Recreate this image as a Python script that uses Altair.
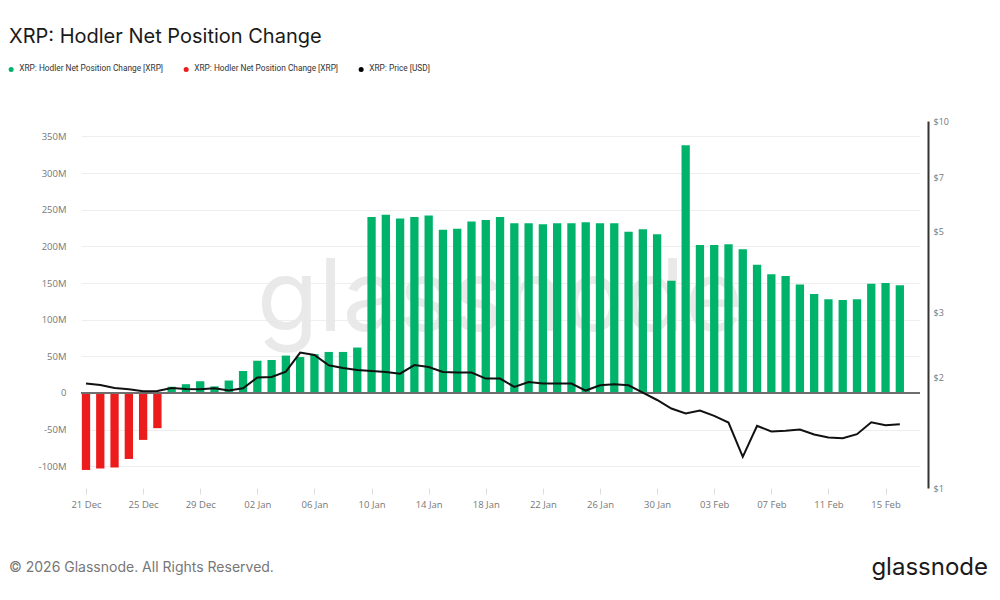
import altair as alt
import pandas as pd

# ---- data ----
dates = pd.date_range("2025-12-21", "2026-02-16", freq="D").strftime("%Y-%m-%dT00:00:00").tolist()

net_change_m = [
    -105, -103, -101.5, -90, -64, -48,
    8.5, 12, 16, 9, 17,
    30, 44, 45, 51, 49, 53, 56, 56, 62,
    240, 243, 238, 240, 242, 222.5, 224, 234, 236, 240, 231.5, 231.5, 230,
    231.5, 231.5, 233, 231.5, 231.5, 220, 223.5, 216.5, 153,
    338, 202, 202, 203, 196, 175, 162, 159.5, 148, 135, 128, 127, 128, 149, 150, 147,
]

price_usd = [
    1.925, 1.909, 1.873, 1.858, 1.835, 1.838, 1.873, 1.862, 1.858, 1.869, 1.843,
    1.869, 2.000, 2.006, 2.076, 2.338, 2.303, 2.159, 2.123, 2.097, 2.084, 2.070,
    2.049, 2.163, 2.136, 2.070, 2.063, 2.063, 1.987, 1.987, 1.885, 1.945, 1.925,
    1.925, 1.925, 1.843, 1.905, 1.917, 1.905, 1.820, 1.737, 1.646,
    1.596, 1.626, 1.573, 1.508, 1.216, 1.477, 1.426, 1.432, 1.443, 1.399, 1.373,
    1.367, 1.402, 1.511, 1.483, 1.492,
]

x_tick_dates = [
    (2025, 12, 21), (2025, 12, 25), (2025, 12, 29), (2026, 1, 2), (2026, 1, 6),
    (2026, 1, 10), (2026, 1, 14), (2026, 1, 18), (2026, 1, 22), (2026, 1, 26),
    (2026, 1, 30), (2026, 2, 3), (2026, 2, 7), (2026, 2, 11), (2026, 2, 15),
]
left_ticks_m = [-100, -50, 0, 50, 100, 150, 200, 250, 300, 350]
right_ticks = [1, 2, 3, 5, 7, 10]

series_keys = ["pos", "neg", "price"]
series_labels = ["XRP: Hodler Net Position Change [XRP]",
                 "XRP: Hodler Net Position Change [XRP]",
                 "XRP: Price [USD]"]
series_colors = ["#00B36A", "#EC1C1C", "#000000"]

title_text = "XRP: Hodler Net Position Change"
footer_text = "\u00a9 2026 Glassnode. All Rights Reserved."
brand_text = "glassnode"

# ---- tables ----
df = pd.DataFrame({
    "date": dates,
    "net": net_change_m,
    "price": price_usd,
})
df["series"] = ["pos" if v >= 0 else "neg" for v in net_change_m]

W, H = 839, 367
FONT = "Open Sans"

x_enc = alt.X(
    "date:T",
    scale=alt.Scale(
        domain=[alt.DateTime(year=2025, month=12, date=21),
                alt.DateTime(year=2026, month=2, date=17, hours=1, minutes=30)],
        nice=False,
    ),
    axis=alt.Axis(
        values=[alt.DateTime(year=y, month=m, date=d) for (y, m, d) in x_tick_dates],
        format="%d %b", title=None, grid=False, domain=False,
        ticks=True, tickSize=6, tickColor="#dddddd", tickWidth=1,
        labelColor="#777777", labelFont=FONT, labelFontSize=9.5, labelPadding=5,
    ),
)

label_expr = ("datum.value == 'price' ? '%s' : '%s'" % (series_labels[2], series_labels[0]))

bars = alt.Chart(df).mark_bar(size=8.3, clip=True).encode(
    x=x_enc,
    y=alt.Y(
        "net:Q",
        scale=alt.Scale(domain=[-129.6, 371], nice=False, zero=False),
        axis=alt.Axis(
            orient="left", values=left_ticks_m, title=None,
            labelExpr="datum.value == 0 ? '0' : datum.value + 'M'",
            domain=False, ticks=False, labelPadding=15,
            grid=True, gridColor="#eeeeee", gridWidth=1,
            labelColor="#777777", labelFont=FONT, labelFontSize=9.5,
        ),
    ),
    color=alt.Color(
        "series:N",
        scale=alt.Scale(domain=series_keys, range=series_colors),
        legend=alt.Legend(
            orient="none", legendX=-74, legendY=-56, direction="horizontal",
            title=None, symbolType="circle", symbolSize=25, symbolStrokeWidth=0,
            labelExpr=label_expr, labelFont="Roboto", labelFontSize=8.3,
            labelColor="#333333", columnPadding=18, labelOffset=4,
        ),
    ),
)

zero_rule = alt.Chart(df).mark_rule(color="#6e6e6e", strokeWidth=2).encode(
    y=alt.datum(0)
)

left_layer = alt.layer(bars, zero_rule)

line = alt.Chart(df).mark_line(color="#111111", strokeWidth=2, clip=True).encode(
    x=x_enc,
    y=alt.Y(
        "price:Q",
        scale=alt.Scale(type="log", domain=[1, 10], nice=False),
        axis=alt.Axis(
            orient="right", values=right_ticks, title=None,
            labelExpr="'$' + datum.value", offset=8,
            domain=True, domainColor="#333333", domainWidth=2,
            ticks=False, labelPadding=5, grid=False,
            labelColor="#777777", labelFont=FONT, labelFontSize=9,
        ),
    ),
)

watermark = alt.Chart(pd.DataFrame({"t": [brand_text]})).mark_text(
    font="Inter", fontSize=100, color="#e9e9e9", align="center", baseline="middle",
).encode(x=alt.value(419), y=alt.value(180), text="t:N")

title = alt.Chart(pd.DataFrame({"t": [title_text]})).mark_text(
    font="Inter", fontSize=20, color="#1a1a1a", align="left", baseline="middle",
).encode(x=alt.value(-72), y=alt.value(-84), text="t:N")

footer = alt.Chart(pd.DataFrame({"t": [footer_text]})).mark_text(
    font="Inter", fontSize=14, color="#777777", align="left", baseline="middle",
).encode(x=alt.value(-72), y=alt.value(447), text="t:N")

brand = alt.Chart(pd.DataFrame({"t": [brand_text]})).mark_text(
    font="Inter", fontSize=24, color="#1a1a1a", align="right", baseline="middle",
).encode(x=alt.value(907), y=alt.value(447), text="t:N")

chart = alt.layer(watermark, left_layer, line, title, footer, brand).resolve_scale(
    y="independent"
).properties(
    width=W, height=H,
    autosize=alt.AutoSizeParams(type="none"),
    padding={"left": 73, "top": 113, "right": 72, "bottom": 100},
    background="white",
).configure_view(stroke=None)

chart.save("out.html", embed_options={"renderer": "svg", "actions": False})
